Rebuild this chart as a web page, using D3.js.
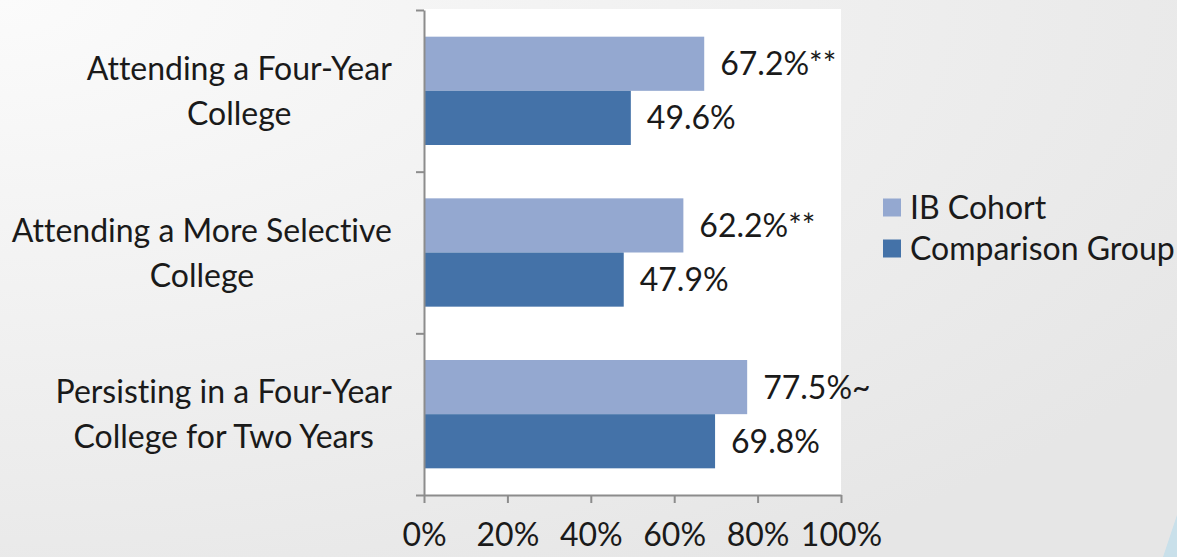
<!DOCTYPE html>
<html>
<head>
<meta charset="utf-8">
<script src="https://cdn.jsdelivr.net/npm/d3@7"></script>
<style>
  html, body { margin: 0; padding: 0; }
  body { width: 1177px; height: 557px; overflow: hidden; }
  text { font-family: Lato, "Open Sans", sans-serif; fill: #1a1a1a; font-variant-ligatures: none; }
</style>
</head>
<body>
<div id="chart"></div>
<script>
const categories = [
    ['Attending a Four-Year', 'College'],
    ['Attending a More Selective', 'College'],
    ['Persisting in a Four-Year', 'College for Two Years']
];
const seriesNames = ['IB Cohort', 'Comparison Group'];
const ibValues = [67.2, 62.2, 77.5];
const comparisonValues = [49.6, 47.9, 69.8];
const ibMarks = ['**', '**', '~'];
const xTicks = [0, 20, 40, 60, 80, 100];

const width = 1177;
const height = 557;
const margin = { top: 10, right: 336, bottom: 62, left: 424 };
const colors = ['#94a8d0', '#4472a8'];
const fontSize = 32;

const svg = d3.select('#chart')
    .append('svg')
    .attr('width', width)
    .attr('height', height);

// soft grey background like the slide
const defs = svg.append('defs');
const grad = defs.append('radialGradient')
    .attr('id', 'bg')
    .attr('cx', '0%').attr('cy', '0%').attr('r', '120%');
grad.append('stop').attr('offset', '0%').attr('stop-color', '#fbfbfb');
grad.append('stop').attr('offset', '100%').attr('stop-color', '#e6e6e6');
svg.append('rect')
    .attr('width', width)
    .attr('height', height)
    .attr('fill', 'url(#bg)');

// decorative corner sliver
svg.append('path')
    .attr('d', `M${width},${height - 42} L${width},${height} L${width - 14},${height} Z`)
    .attr('fill', '#c9e0ea');

const plotW = width - margin.left - margin.right;
const plotH = height - margin.top - margin.bottom;

const g = svg.append('g')
    .attr('transform', `translate(${margin.left},${margin.top})`);

g.append('rect')
    .attr('x', 0)
    .attr('y', -1)
    .attr('width', plotW)
    .attr('height', plotH + 1)
    .attr('fill', '#ffffff');

const xScale = d3.scaleLinear()
    .domain([0, 100])
    .range([0, plotW]);

const yScale = d3.scaleBand()
    .domain(d3.range(categories.length))
    .range([0, plotH])
    .paddingInner(0.33)
    .paddingOuter(0.165);

const subScale = d3.scaleBand()
    .domain([0, 1])
    .range([0, yScale.bandwidth()]);

const rows = categories.map((c, i) => ({
    index: i,
    values: [ibValues[i], comparisonValues[i]],
    labels: [ibValues[i].toFixed(1) + '%' + ibMarks[i], comparisonValues[i].toFixed(1) + '%']
}));

const rowG = g.selectAll('.row')
    .data(rows)
    .enter()
    .append('g')
    .attr('class', 'row')
    .attr('transform', d => `translate(0,${yScale(d.index)})`);

rowG.selectAll('rect')
    .data(d => d.values.map((v, k) => ({ v, k, label: d.labels[k] })))
    .enter()
    .append('rect')
    .attr('x', 0)
    .attr('y', d => subScale(d.k))
    .attr('width', d => xScale(d.v))
    .attr('height', subScale.bandwidth())
    .attr('fill', d => colors[d.k]);

rowG.selectAll('.val')
    .data(d => d.values.map((v, k) => ({ v, k, label: d.labels[k] })))
    .enter()
    .append('text')
    .attr('class', 'val')
    .attr('x', d => xScale(d.v) + 16)
    .attr('y', d => subScale(d.k) + subScale.bandwidth() / 2)
    .attr('dy', '0.36em')
    .attr('font-size', fontSize)
    .text(d => d.label);

// x axis
const xAxis = d3.axisBottom(xScale)
    .tickValues(xTicks)
    .tickSizeInner(8)
    .tickSizeOuter(0)
    .tickPadding(20)
    .tickFormat(d => d + '%');
const xg = g.append('g')
    .attr('transform', `translate(0,${plotH})`)
    .call(xAxis);
xg.select('.domain').attr('stroke', '#8c8c8c').attr('stroke-width', 2);
xg.selectAll('.tick line').attr('stroke', '#8c8c8c').attr('stroke-width', 2);
xg.selectAll('.tick text')
    .attr('font-size', fontSize)
    .attr('font-family', 'Lato, "Open Sans", sans-serif')
    .attr('fill', '#1a1a1a');

// y axis: boundary ticks between categories
const yEdge = d3.scaleLinear().domain([0, categories.length]).range([0, plotH]);
const yAxis = d3.axisLeft(yEdge)
    .tickValues(d3.range(categories.length + 1))
    .tickSizeInner(8)
    .tickSizeOuter(0)
    .tickFormat('');
const yg = g.append('g').call(yAxis);
yg.select('.domain').attr('stroke', '#8c8c8c').attr('stroke-width', 2);
yg.selectAll('.tick line').attr('stroke', '#8c8c8c').attr('stroke-width', 2);

// category labels: centred block, right edge at the axis gap
const catG = g.selectAll('.cat')
    .data(categories)
    .enter()
    .append('text')
    .attr('class', 'cat')
    .attr('text-anchor', 'middle')
    .attr('font-size', fontSize);

catG.selectAll('tspan')
    .data(d => d)
    .enter()
    .append('tspan')
    .attr('x', 0)
    .attr('y', (d, j) => (j - 0.5) * 45)
    .attr('dy', '0.36em')
    .text(d => d);

catG.attr('transform', function(d, i) {
    const w = this.getBBox().width;
    return `translate(${-32 - w / 2},${yScale(i) + yScale.bandwidth() / 2})`;
});

// legend
const legend = svg.append('g')
    .attr('transform', 'translate(883,228)');
const legendItem = legend.selectAll('g')
    .data(seriesNames)
    .enter()
    .append('g')
    .attr('transform', (d, i) => `translate(0,${(i - 0.5) * 41})`);
legendItem.append('rect')
    .attr('x', 0)
    .attr('y', -9)
    .attr('width', 18)
    .attr('height', 18)
    .attr('fill', (d, i) => colors[i]);
legendItem.append('text')
    .attr('x', 27)
    .attr('dy', '0.36em')
    .attr('font-size', fontSize)
    .text(d => d);
</script>
</body>
</html>
